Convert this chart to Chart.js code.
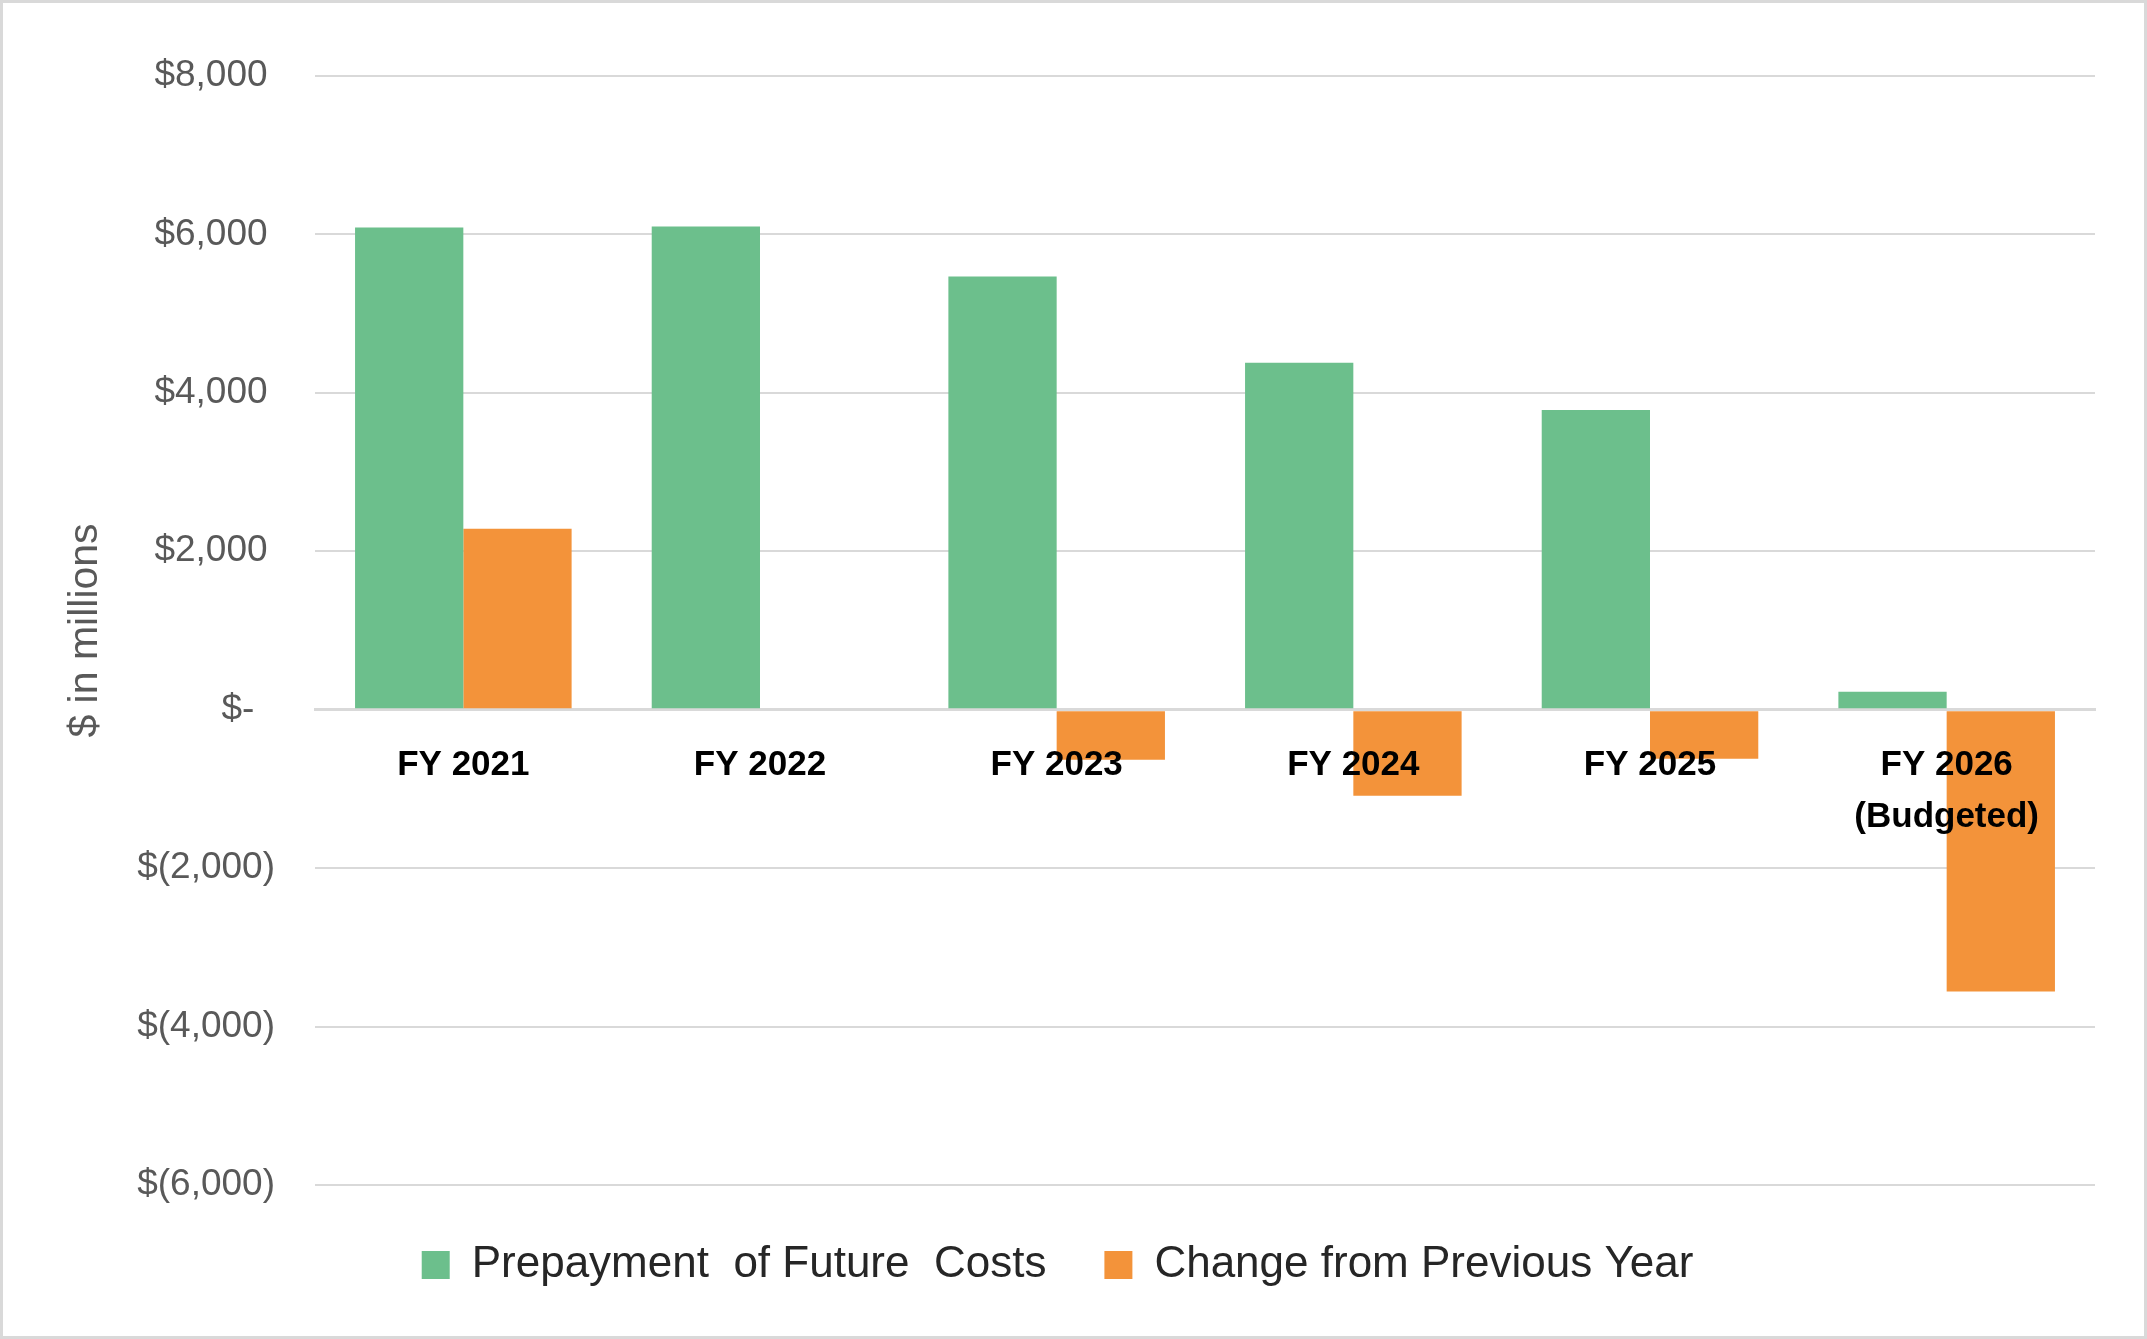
<!DOCTYPE html>
<html>
<head>
<meta charset="utf-8">
<title>Prepayment of Future Costs</title>
<script src="https://cdn.jsdelivr.net/npm/chart.js"></script>
<style>
  html, body { margin: 0; padding: 0; background: #fff; }
  #wrap { width: 2147px; height: 1339px; position: relative; }
</style>
</head>
<body>
<div id="wrap"><canvas id="myChart"></canvas></div>
<script>
  // values, $ in millions
  const years = ['FY 2021', 'FY 2022', 'FY 2023', 'FY 2024', 'FY 2025', ['FY 2026', '(Budgeted)']];
  const prepayment = [6087, 6100, 5468, 4380, 3783, 226];
  const change = [2284, 0, -631, -1087, -620, -3557];
  const yMin = -6000, yMax = 8000, yStep = 2000;

  function money(v) {
    if (v === 0) return '$-  ';
    const s = Math.abs(v).toLocaleString('en-US');
    return v < 0 ? '$(' + s + ')' : '$' + s + '\u2009';
  }

  // light grey frame round the whole chart
  const frame = {
    id: 'frame',
    afterDraw(chart) {
      const c = chart.ctx;
      c.save();
      c.strokeStyle = '#d9d9d9';
      c.lineWidth = 3;
      c.strokeRect(1.5, 1.5, chart.width - 3, chart.height - 3);
      c.restore();
    }
  };

  const ctx = document.getElementById('myChart').getContext('2d');
  new Chart(ctx, {
    type: 'bar',
    data: {
      labels: years,
      datasets: [
        { label: 'Prepayment  of Future  Costs', data: prepayment, backgroundColor: '#6cbf8c' },
        { label: 'Change from Previous Year', data: change, backgroundColor: '#f3933a' }
      ]
    },
    options: {
      responsive: true,
      maintainAspectRatio: false,
      devicePixelRatio: 1,
      animation: false,
      categoryPercentage: 0.73,
      barPercentage: 1.0,
      layout: { padding: { top: 76, right: 52, bottom: 42, left: 20 } },
      scales: {
        x: {
          position: { y: 0 },
          grid: { display: false },
          border: { display: true, color: '#d9d9d9', width: 3 },
          ticks: {
            z: 1,
            color: '#000',
            padding: 21,
            maxRotation: 0,
            font: { family: 'Liberation Sans', size: 35, weight: 'bold', lineHeight: 1.5 }
          }
        },
        y: {
          min: yMin,
          max: yMax,
          afterFit(scale) { scale.width = 295; },
          grid: {
            color: '#d9d9d9',
            lineWidth: c => (c.tick && c.tick.value === 0 ? 3 : 2),
            drawTicks: false
          },
          border: { display: false },
          ticks: {
            stepSize: yStep,
            padding: 40,
            color: '#595959',
            font: { family: 'Liberation Sans', size: 37 },
            callback: v => money(v)
          },
          title: {
            display: true,
            text: '$ in millions',
            color: '#595959',
            padding: { top: 41, bottom: 0 },
            font: { family: 'Liberation Sans', size: 41 }
          }
        }
      },
      plugins: {
        legend: {
          position: 'bottom',
          labels: {
            boxWidth: 28,
            boxHeight: 28,
            padding: 58,
            color: '#262626',
            font: { family: 'Liberation Sans', size: 44 }
          }
        },
        tooltip: { enabled: false }
      }
    },
    plugins: [frame]
  });
</script>
</body>
</html>
